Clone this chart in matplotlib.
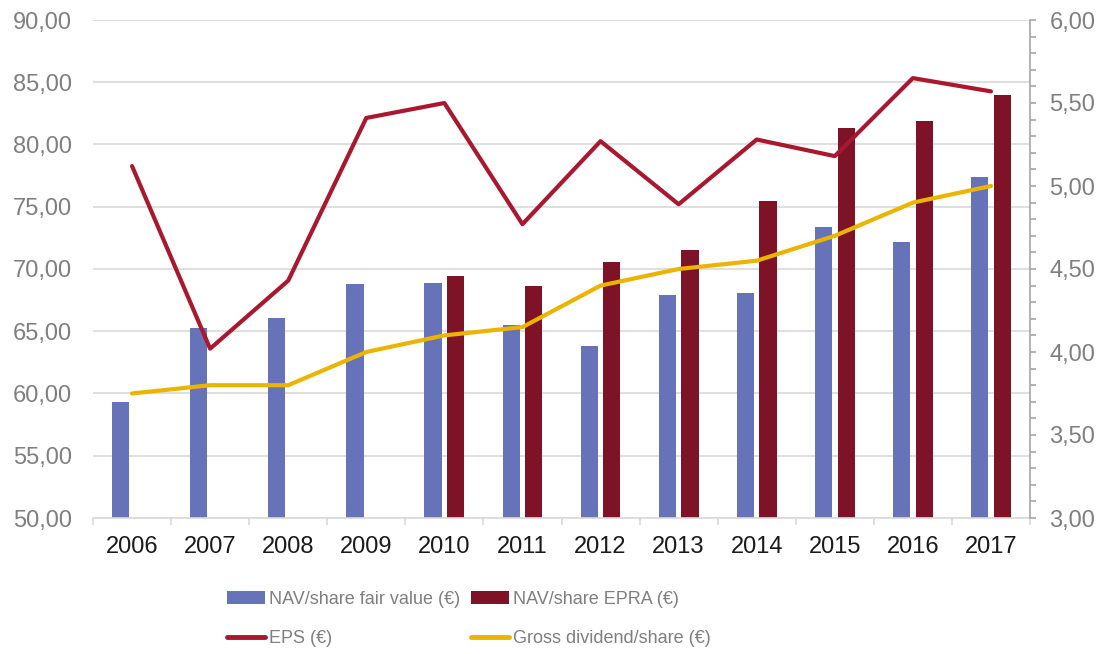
import matplotlib
matplotlib.use("Agg")
import matplotlib.pyplot as plt
import numpy as np
from matplotlib.ticker import FuncFormatter, MultipleLocator
from matplotlib.patches import Patch
from matplotlib.lines import Line2D

plt.rcParams["font.family"] = ["Liberation Sans", "DejaVu Sans"]

years = ["2006", "2007", "2008", "2009", "2010", "2011",
         "2012", "2013", "2014", "2015", "2016", "2017"]
nav_fair = [59.3, 65.3, 66.1, 68.8, 68.9, 65.5, 63.8, 67.9, 68.1, 73.4, 72.2, 77.4]
nav_epra = [np.nan, np.nan, np.nan, np.nan, 69.4, 68.6, 70.6, 71.5, 75.5, 81.3, 81.9, 84.0]
eps = [5.12, 4.02, 4.43, 5.41, 5.50, 4.77, 5.27, 4.89, 5.28, 5.18, 5.65, 5.57]
dividend = [3.75, 3.80, 3.80, 4.00, 4.10, 4.15, 4.40, 4.50, 4.55, 4.70, 4.90, 5.00]

BLUE = "#6673B8"
DARK_RED = "#7E1328"
EPS_RED = "#A8182F"
GOLD = "#EBB400"
GRID = "#D9D9D9"
LABEL_GRAY = "#7F7F7F"


def comma_fmt(v, _pos):
    return f"{v:.2f}".replace(".", ",")


fig = plt.figure(figsize=(11.02, 6.54), dpi=100)
ax = fig.add_axes([93 / 1102, 1 - 518 / 654, (1030 - 93) / 1102, 498 / 654])
x = np.arange(len(years))
w = 0.22

ax.bar(x - 0.145, nav_fair, width=w, color=BLUE, zorder=2)
ax.bar(x + 0.145, nav_epra, width=w, color=DARK_RED, zorder=2)

ax.set_ylim(50, 90)
ax.set_xlim(-0.5, len(years) - 0.5)
ax.yaxis.set_major_locator(MultipleLocator(5))
ax.yaxis.set_major_formatter(FuncFormatter(comma_fmt))
ax.grid(axis="y", color=GRID, linewidth=1.2)
ax.set_axisbelow(True)
ax.tick_params(axis="y", length=0, labelsize=17, labelcolor=LABEL_GRAY, pad=15)

ax.set_xticks(x)
ax.set_xticklabels(years)
ax.set_xticks(np.arange(-0.5, len(years)), minor=True)
ax.tick_params(axis="x", which="major", length=0, labelsize=17, labelcolor="#1a1a1a", pad=13)
ax.tick_params(axis="x", which="minor", length=5, color=GRID, width=1.2)

for side in ["top", "left", "right"]:
    ax.spines[side].set_visible(False)
ax.spines["bottom"].set_color(GRID)
ax.spines["bottom"].set_linewidth(1.2)

ax2 = ax.twinx()
ax2.plot(x, eps, color=EPS_RED, lw=3, solid_capstyle="round", solid_joinstyle="round", zorder=3)
ax2.plot(x, dividend, color=GOLD, lw=3, solid_capstyle="round", solid_joinstyle="round", zorder=3)
ax2.set_ylim(3, 6)
ax2.yaxis.set_major_locator(MultipleLocator(0.5))
ax2.yaxis.set_minor_locator(MultipleLocator(0.1))
ax2.yaxis.set_major_formatter(FuncFormatter(comma_fmt))
ax2.tick_params(axis="y", which="both", length=4, width=1.2, color="#A6A6A6",
                labelsize=17, labelcolor=LABEL_GRAY, pad=10)
for side in ["top", "left", "bottom"]:
    ax2.spines[side].set_visible(False)
ax2.spines["right"].set_color("#A6A6A6")
ax2.spines["right"].set_linewidth(1.2)

handles = [
    Patch(facecolor=BLUE, label="NAV/share fair value (€)"),
    Line2D([0], [0], color=EPS_RED, lw=3.5, solid_capstyle="round", label="EPS (€)"),
    Patch(facecolor=DARK_RED, label="NAV/share EPRA (€)"),
    Line2D([0], [0], color=GOLD, lw=3.5, solid_capstyle="round", label="Gross dividend/share (€)"),
]
fig.legend(handles=handles, ncol=2, loc="upper left",
           bbox_to_anchor=(227 / 1102, 1 - 591 / 654), frameon=False,
           fontsize=13, labelcolor=LABEL_GRAY, handlelength=2.1, handleheight=0.7,
           handletextpad=0.25, columnspacing=0.58, labelspacing=1.22,
           borderpad=0, borderaxespad=0)

fig.savefig("out.png", dpi=100)
